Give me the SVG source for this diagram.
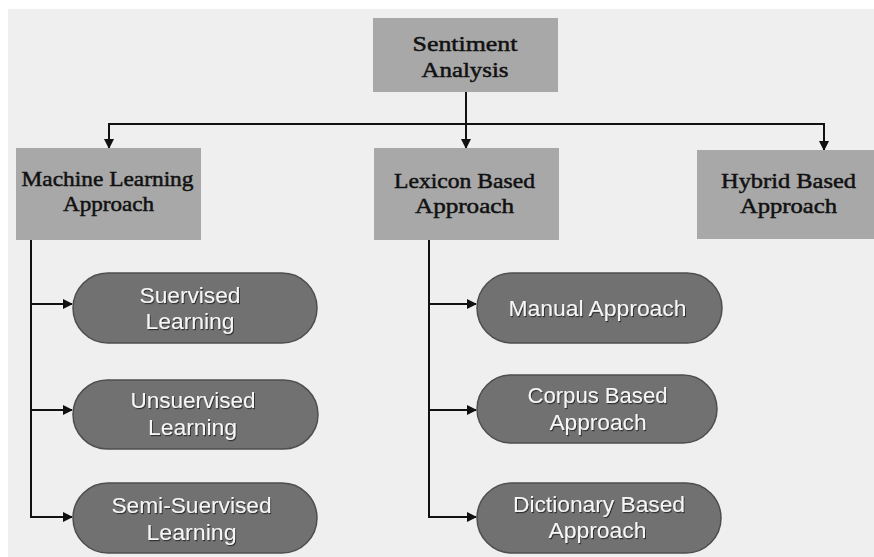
<svg xmlns="http://www.w3.org/2000/svg" width="874" height="557" viewBox="0 0 874 557">
  <style>
    .hdr { fill: #a8a8a8; }
    .hdr-t { font-family: "Liberation Serif", "Times New Roman", serif; font-size: 22px; fill: #111; stroke: #111; stroke-width: 0.5; text-anchor: middle; }
    .pill { fill: #717171; stroke: #4e4e4e; stroke-width: 1.5; }
    .pill-t { font-family: "Liberation Sans", Arial, sans-serif; font-size: 22px; fill: #f6f6f6; text-anchor: middle; filter: url(#shadow); }
    .wire { fill: none; stroke: #111; stroke-width: 2; }
  </style>
  <defs>
    <marker id="arrow" viewBox="0 0 10 10" refX="9" refY="5" markerWidth="5" markerHeight="5" orient="auto" markerUnits="strokeWidth">
      <path d="M0,0 L10,5 L0,10 Z" fill="#111"/>
    </marker>
    <filter id="shadow" x="-10%" y="-30%" width="120%" height="160%">
      <feDropShadow dx="1" dy="1.2" stdDeviation="0.6" flood-color="#2a2a2a" flood-opacity="0.9"/>
    </filter>
  </defs>

  <!-- canvas -->
  <rect x="0" y="0" width="874" height="557" fill="#ffffff"/>
  <rect x="8" y="9" width="866" height="548" fill="#efefef"/>

  <!-- connectors -->
  <g id="connectors">
    <path class="wire" d="M466,92 V148" marker-end="url(#arrow)"/>
    <path class="wire" d="M109,124 H824"/>
    <path class="wire" d="M109,123 V148" marker-end="url(#arrow)"/>
    <path class="wire" d="M824,123 V150" marker-end="url(#arrow)"/>

    <path class="wire" d="M31,240 V517"/>
    <path class="wire" d="M30,304 H72" marker-end="url(#arrow)"/>
    <path class="wire" d="M30,410 H72" marker-end="url(#arrow)"/>
    <path class="wire" d="M30,517 H72" marker-end="url(#arrow)"/>

    <path class="wire" d="M429,240 V517"/>
    <path class="wire" d="M428,304 H476" marker-end="url(#arrow)"/>
    <path class="wire" d="M428,410 H476" marker-end="url(#arrow)"/>
    <path class="wire" d="M428,517 H476" marker-end="url(#arrow)"/>
  </g>

  <!-- top-level nodes -->
  <g id="sentiment-analysis">
    <rect class="hdr" x="373" y="18" width="185" height="74"/>
    <text class="hdr-t" x="465" y="51" textLength="105" lengthAdjust="spacingAndGlyphs">Sentiment</text>
    <text class="hdr-t" x="465" y="77" textLength="87" lengthAdjust="spacingAndGlyphs">Analysis</text>
  </g>

  <g id="machine-learning">
    <rect class="hdr" x="16" y="148" width="185" height="92"/>
    <text class="hdr-t" x="107.5" y="186" textLength="172" lengthAdjust="spacingAndGlyphs">Machine Learning</text>
    <text class="hdr-t" x="108.5" y="211" textLength="91" lengthAdjust="spacingAndGlyphs">Approach</text>
  </g>

  <g id="lexicon-based">
    <rect class="hdr" x="374" y="148" width="185" height="92"/>
    <text class="hdr-t" x="464.5" y="188" textLength="141" lengthAdjust="spacingAndGlyphs">Lexicon Based</text>
    <text class="hdr-t" x="464.5" y="213" textLength="99" lengthAdjust="spacingAndGlyphs">Approach</text>
  </g>

  <g id="hybrid-based">
    <rect class="hdr" x="697" y="150" width="185" height="89"/>
    <text class="hdr-t" x="788.5" y="188" textLength="135" lengthAdjust="spacingAndGlyphs">Hybrid Based</text>
    <text class="hdr-t" x="788.5" y="213" textLength="97" lengthAdjust="spacingAndGlyphs">Approach</text>
  </g>

  <!-- machine learning branches -->
  <g id="supervised">
    <rect class="pill" x="73" y="273" width="244" height="70" rx="35"/>
    <text class="pill-t" x="190" y="303" textLength="101" lengthAdjust="spacingAndGlyphs">Suervised</text>
    <text class="pill-t" x="190" y="329" textLength="89" lengthAdjust="spacingAndGlyphs">Learning</text>
  </g>

  <g id="unsupervised">
    <rect class="pill" x="73" y="380" width="245" height="69" rx="34.5"/>
    <text class="pill-t" x="193" y="408" textLength="125" lengthAdjust="spacingAndGlyphs">Unsuervised</text>
    <text class="pill-t" x="192.5" y="435" textLength="89" lengthAdjust="spacingAndGlyphs">Learning</text>
  </g>

  <g id="semi-supervised">
    <rect class="pill" x="73" y="483" width="244" height="70" rx="35"/>
    <text class="pill-t" x="191.5" y="513" textLength="160" lengthAdjust="spacingAndGlyphs">Semi-Suervised</text>
    <text class="pill-t" x="191.5" y="540" textLength="90" lengthAdjust="spacingAndGlyphs">Learning</text>
  </g>

  <!-- lexicon branches -->
  <g id="manual">
    <rect class="pill" x="477" y="273" width="245" height="70" rx="35"/>
    <text class="pill-t" x="597.5" y="316" textLength="178" lengthAdjust="spacingAndGlyphs">Manual Approach</text>
  </g>

  <g id="corpus-based">
    <rect class="pill" x="477" y="375" width="240" height="68" rx="34"/>
    <text class="pill-t" x="597.5" y="403" textLength="140" lengthAdjust="spacingAndGlyphs">Corpus Based</text>
    <text class="pill-t" x="598" y="430" textLength="97" lengthAdjust="spacingAndGlyphs">Approach</text>
  </g>

  <g id="dictionary-based">
    <rect class="pill" x="477" y="483" width="244" height="70" rx="35"/>
    <text class="pill-t" x="599" y="512" textLength="172" lengthAdjust="spacingAndGlyphs">Dictionary Based</text>
    <text class="pill-t" x="597.5" y="538" textLength="98" lengthAdjust="spacingAndGlyphs">Approach</text>
  </g>
</svg>
